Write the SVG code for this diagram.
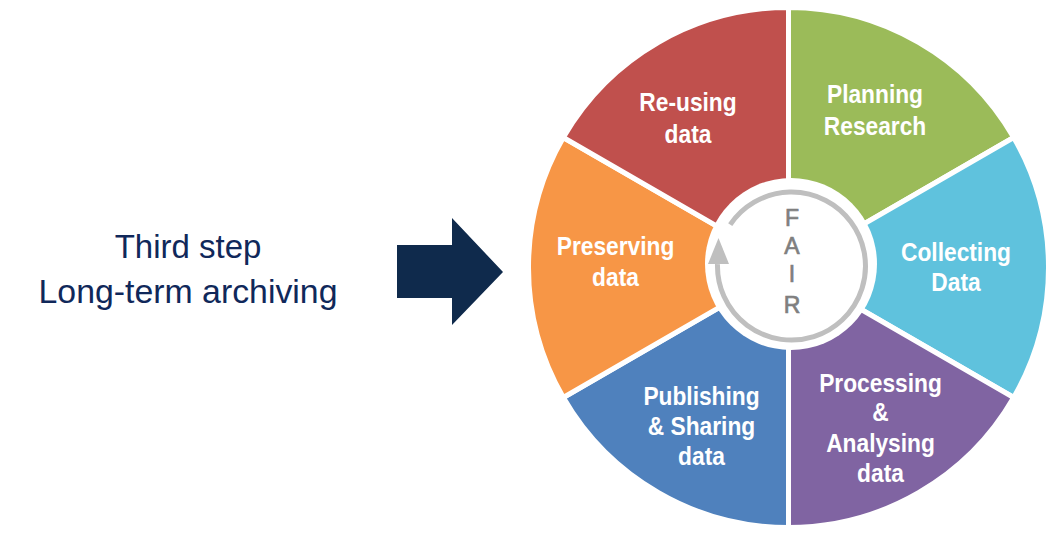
<svg xmlns="http://www.w3.org/2000/svg" width="1051" height="544" viewBox="0 0 1051 544">
<style>
.sec{stroke:#fff;stroke-width:5;stroke-linejoin:miter}
.lbl{font-family:"Liberation Sans",Arial,sans-serif;font-weight:bold;font-size:25px;fill:#fff;text-anchor:middle}
.fair{font-family:"Liberation Sans",Arial,sans-serif;font-size:23px;fill:#7f7f7f;stroke:#7f7f7f;stroke-width:0.7;text-anchor:middle}
.side{font-family:"Liberation Sans",Arial,sans-serif;font-size:33px;fill:#10285a;text-anchor:middle}
</style>
<rect width="1051" height="544" fill="#fff"/>
<g id="intro">
<text class="side" x="188" y="258">Third step</text>
<text class="side" x="188" y="303" textLength="299" lengthAdjust="spacingAndGlyphs">Long-term archiving</text>
</g>
<g id="connectors">
<polygon points="397,245 452,245 452,218 503,272 452,325 452,298 397,298" fill="#0f2a4c"/>
</g>
<g id="planning">
<path class="sec" fill="#9bbb59" d="M788.5,267.5 L788.5,7.5 A260,260 0 0 1 1013.67,137.5 Z"/>
<g transform="translate(875,0) scale(0.91,1)"><text class="lbl" x="0" y="103">Planning</text><text class="lbl" x="0" y="135">Research</text></g>
</g>
<g id="collecting">
<path class="sec" fill="#5fc2dd" d="M788.5,267.5 L1013.67,137.5 A260,260 0 0 1 1013.67,397.5 Z"/>
<g transform="translate(956,0) scale(0.91,1)"><text class="lbl" x="0" y="261">Collecting</text><text class="lbl" x="0" y="291">Data</text></g>
</g>
<g id="processing">
<path class="sec" fill="#8064a2" d="M788.5,267.5 L1013.67,397.5 A260,260 0 0 1 788.5,527.5 Z"/>
<g transform="translate(880.5,0) scale(0.91,1)"><text class="lbl" x="0" y="392">Processing</text><text class="lbl" x="0" y="421">&amp;</text><text class="lbl" x="0" y="452">Analysing</text><text class="lbl" x="0" y="482">data</text></g>
</g>
<g id="publishing">
<path class="sec" fill="#4f81bd" d="M788.5,267.5 L788.5,527.5 A260,260 0 0 1 563.33,397.5 Z"/>
<g transform="translate(701.5,0) scale(0.91,1)"><text class="lbl" x="0" y="405">Publishing</text><text class="lbl" x="0" y="435">&amp; Sharing</text><text class="lbl" x="0" y="465">data</text></g>
</g>
<g id="preserving">
<path class="sec" fill="#f79646" d="M788.5,267.5 L563.33,397.5 A260,260 0 0 1 563.33,137.5 Z"/>
<g transform="translate(615.5,0) scale(0.91,1)"><text class="lbl" x="0" y="255">Preserving</text><text class="lbl" x="0" y="286">data</text></g>
</g>
<g id="reusing">
<path class="sec" fill="#c0504d" d="M788.5,267.5 L563.33,137.5 A260,260 0 0 1 788.5,7.5 Z"/>
<g transform="translate(688,0) scale(0.91,1)"><text class="lbl" x="0" y="111">Re-using</text><text class="lbl" x="0" y="143">data</text></g>
</g>
<g id="fair">
<circle cx="791" cy="264" r="86" fill="#fff"/>
<path d="M730.2,224.6 A74,74 0 1 1 717.5,264.1" fill="none" stroke="#bfbfbf" stroke-width="5"/>
<polygon points="708,264 718.5,238 729,264" fill="#bfbfbf"/>
<text class="fair" x="792" y="226">F</text>
<text class="fair" x="792" y="254">A</text>
<text class="fair" x="792" y="282">I</text>
<text class="fair" x="792" y="313">R</text>
</g>
</svg>
